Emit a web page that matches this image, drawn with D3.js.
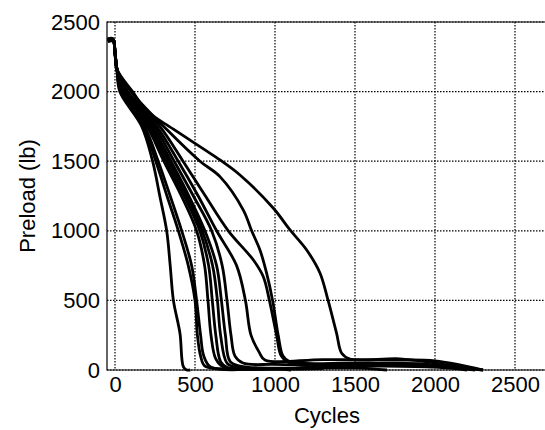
<html>
<script src="https://d3js.org/d3.v7.min.js"></script>
<style>
    body { margin: 0; background: #fff; }
    text { font-family: "Liberation Sans", Arial, sans-serif; fill: #000; }
</style>

<body>
    <script>
        var width = 545;
        var height = 430;

        // tick values
        var xTicks = [0, 500, 1000, 1500, 2000, 2500];
        var yTicks = [0, 500, 1000, 1500, 2000, 2500];

        // each test: [cycles, preload lb]
        var test01 = [[-45, 2370], [-12, 2372], [0, 2280], [12, 2160], [30, 2000], [167, 1750], [235, 1500], [280, 1250], [323, 1000], [345, 750], [365, 500], [406, 264], [427, 24], [448, 0], [470, 0]];
        var test02 = [[-45, 2360], [-12, 2362], [0, 2280], [12, 2160], [35, 2000], [175, 1750], [255, 1500], [325, 1250], [396, 1000], [458, 750], [500, 500], [515, 250], [535, 100], [560, 30], [650, 10], [800, 5]];
        var test03 = [[-45, 2375], [-12, 2378], [0, 2280], [12, 2160], [40, 2000], [185, 1750], [270, 1500], [345, 1250], [417, 1000], [479, 750], [510, 500], [535, 250], [555, 100], [600, 20], [900, 10]];
        var test04 = [[-45, 2365], [-12, 2368], [0, 2280], [12, 2160], [45, 2000], [200, 1750], [305, 1500], [415, 1250], [510, 1000], [560, 750], [581, 500], [600, 250], [630, 80], [680, 20], [1000, 10], [1100, 0]];
        var test05 = [[-45, 2380], [-12, 2380], [0, 2280], [12, 2160], [50, 2000], [210, 1750], [320, 1500], [432, 1250], [530, 1000], [585, 750], [608, 500], [630, 250], [660, 60], [700, 20], [1200, 15]];
        var test06 = [[-45, 2360], [-12, 2365], [0, 2280], [12, 2160], [55, 2000], [220, 1750], [335, 1500], [448, 1250], [545, 1000], [610, 750], [640, 500], [660, 250], [700, 50], [760, 20], [1300, 10]];
        var test07 = [[-45, 2372], [-12, 2370], [0, 2280], [12, 2160], [60, 2000], [230, 1750], [350, 1500], [462, 1250], [562, 1000], [635, 750], [665, 500], [690, 250], [720, 60], [800, 25], [1500, 15], [1700, 0]];
        var test08 = [[-45, 2368], [-12, 2372], [0, 2280], [12, 2160], [65, 2000], [245, 1750], [370, 1500], [490, 1250], [604, 1000], [670, 750], [700, 500], [725, 250], [750, 100], [800, 50], [1000, 40], [1500, 30], [2000, 20], [2200, 0]];
        var test09 = [[-45, 2376], [-12, 2374], [0, 2280], [12, 2160], [70, 2000], [260, 1750], [395, 1500], [520, 1250], [635, 1000], [760, 750], [815, 500], [850, 250], [900, 130], [937, 72], [1300, 75], [1750, 72], [2000, 65], [2300, 0]];
        var test10 = [[-45, 2362], [-12, 2366], [0, 2280], [12, 2160], [80, 2000], [280, 1750], [425, 1500], [565, 1250], [708, 1000], [865, 790], [927, 670], [965, 500], [1010, 250], [1040, 100], [1100, 45], [1600, 40], [2000, 30], [2250, 0]];
        var test11 = [[-45, 2370], [-12, 2376], [0, 2280], [12, 2160], [100, 2000], [330, 1720], [531, 1500], [656, 1389], [802, 1149], [854, 1000], [906, 862], [948, 694], [985, 500], [1020, 250], [1050, 100], [1090, 60], [1500, 50], [1900, 45], [2100, 20], [2300, 0]];
        var test12 = [[-45, 2374], [-12, 2368], [0, 2280], [12, 2160], [110, 2000], [200, 1860], [365, 1730], [656, 1509], [781, 1401], [990, 1162], [1094, 1006], [1198, 862], [1281, 697], [1331, 503], [1385, 263], [1417, 120], [1469, 78], [1780, 80], [2000, 50], [2300, 0]];

        var tests = [test01, test02, test03, test04, test05, test06, test07, test08, test09, test10, test11, test12];

        var svg = d3.select("body").append("svg")
            .attr("width", width)
            .attr("height", height);

        var pLeft = 107, pRight = 547, pTop = 22, pBottom = 370;

        var x = d3.scaleLinear().domain([-50, 2700]).range([pLeft, pRight]);
        var y = d3.scaleLinear().domain([0, 2500]).range([pBottom, pTop]);

        // dotted grid
        var grid = svg.append("g");
        grid.selectAll(".vgrid").data(xTicks).enter().append("line")
            .attr("class", "vgrid")
            .attr("x1", d => x(d)).attr("x2", d => x(d))
            .attr("y1", pTop).attr("y2", pBottom)
            .attr("stroke", "#000").attr("stroke-width", 1.2)
            .attr("stroke-dasharray", "1.5,1.5");
        grid.selectAll(".hgrid").data(yTicks).enter().append("line")
            .attr("class", "hgrid")
            .attr("x1", pLeft).attr("x2", pRight)
            .attr("y1", d => y(d)).attr("y2", d => y(d))
            .attr("stroke", "#000").attr("stroke-width", 1.2)
            .attr("stroke-dasharray", "1.5,1.5");

        // axes
        var xAxis = svg.append("g")
            .attr("transform", `translate(0,${pBottom})`)
            .call(d3.axisBottom(x).tickValues(xTicks).tickSize(0).tickPadding(6).tickFormat(d3.format("d")));
        var yAxis = svg.append("g")
            .attr("transform", `translate(${pLeft},0)`)
            .call(d3.axisLeft(y).tickValues(yTicks).tickSize(0).tickPadding(7).tickFormat(d3.format("d")));
        [xAxis, yAxis].forEach(a => {
            a.select(".domain").remove();
            a.attr("font-size", 22).attr("font-family", "Liberation Sans, Arial, sans-serif");
        });

        // frame
        svg.append("path")
            .attr("d", `M${pRight},${pTop}H${pLeft}V${pBottom}H${pRight}`)
            .attr("fill", "none").attr("stroke", "#000").attr("stroke-width", 1.2);

        var line = d3.line()
            .x(d => x(d[0]))
            .y(d => y(d[1]))
            .curve(d3.curveCatmullRom.alpha(0.5));

        svg.append("g").selectAll("path").data(tests).enter().append("path")
            .attr("d", line)
            .attr("fill", "none")
            .attr("stroke", "#000")
            .attr("stroke-width", 2.8)
            .attr("stroke-linejoin", "round");

        svg.append("text")
            .attr("x", (pLeft + pRight) / 2)
            .attr("y", 423)
            .attr("text-anchor", "middle")
            .attr("font-size", 22)
            .text("Cycles");

        svg.append("text")
            .attr("transform", `translate(35,${(pTop + pBottom) / 2}) rotate(-90)`)
            .attr("text-anchor", "middle")
            .attr("font-size", 22)
            .text("Preload (lb)");
    </script>
</body>

</html>
